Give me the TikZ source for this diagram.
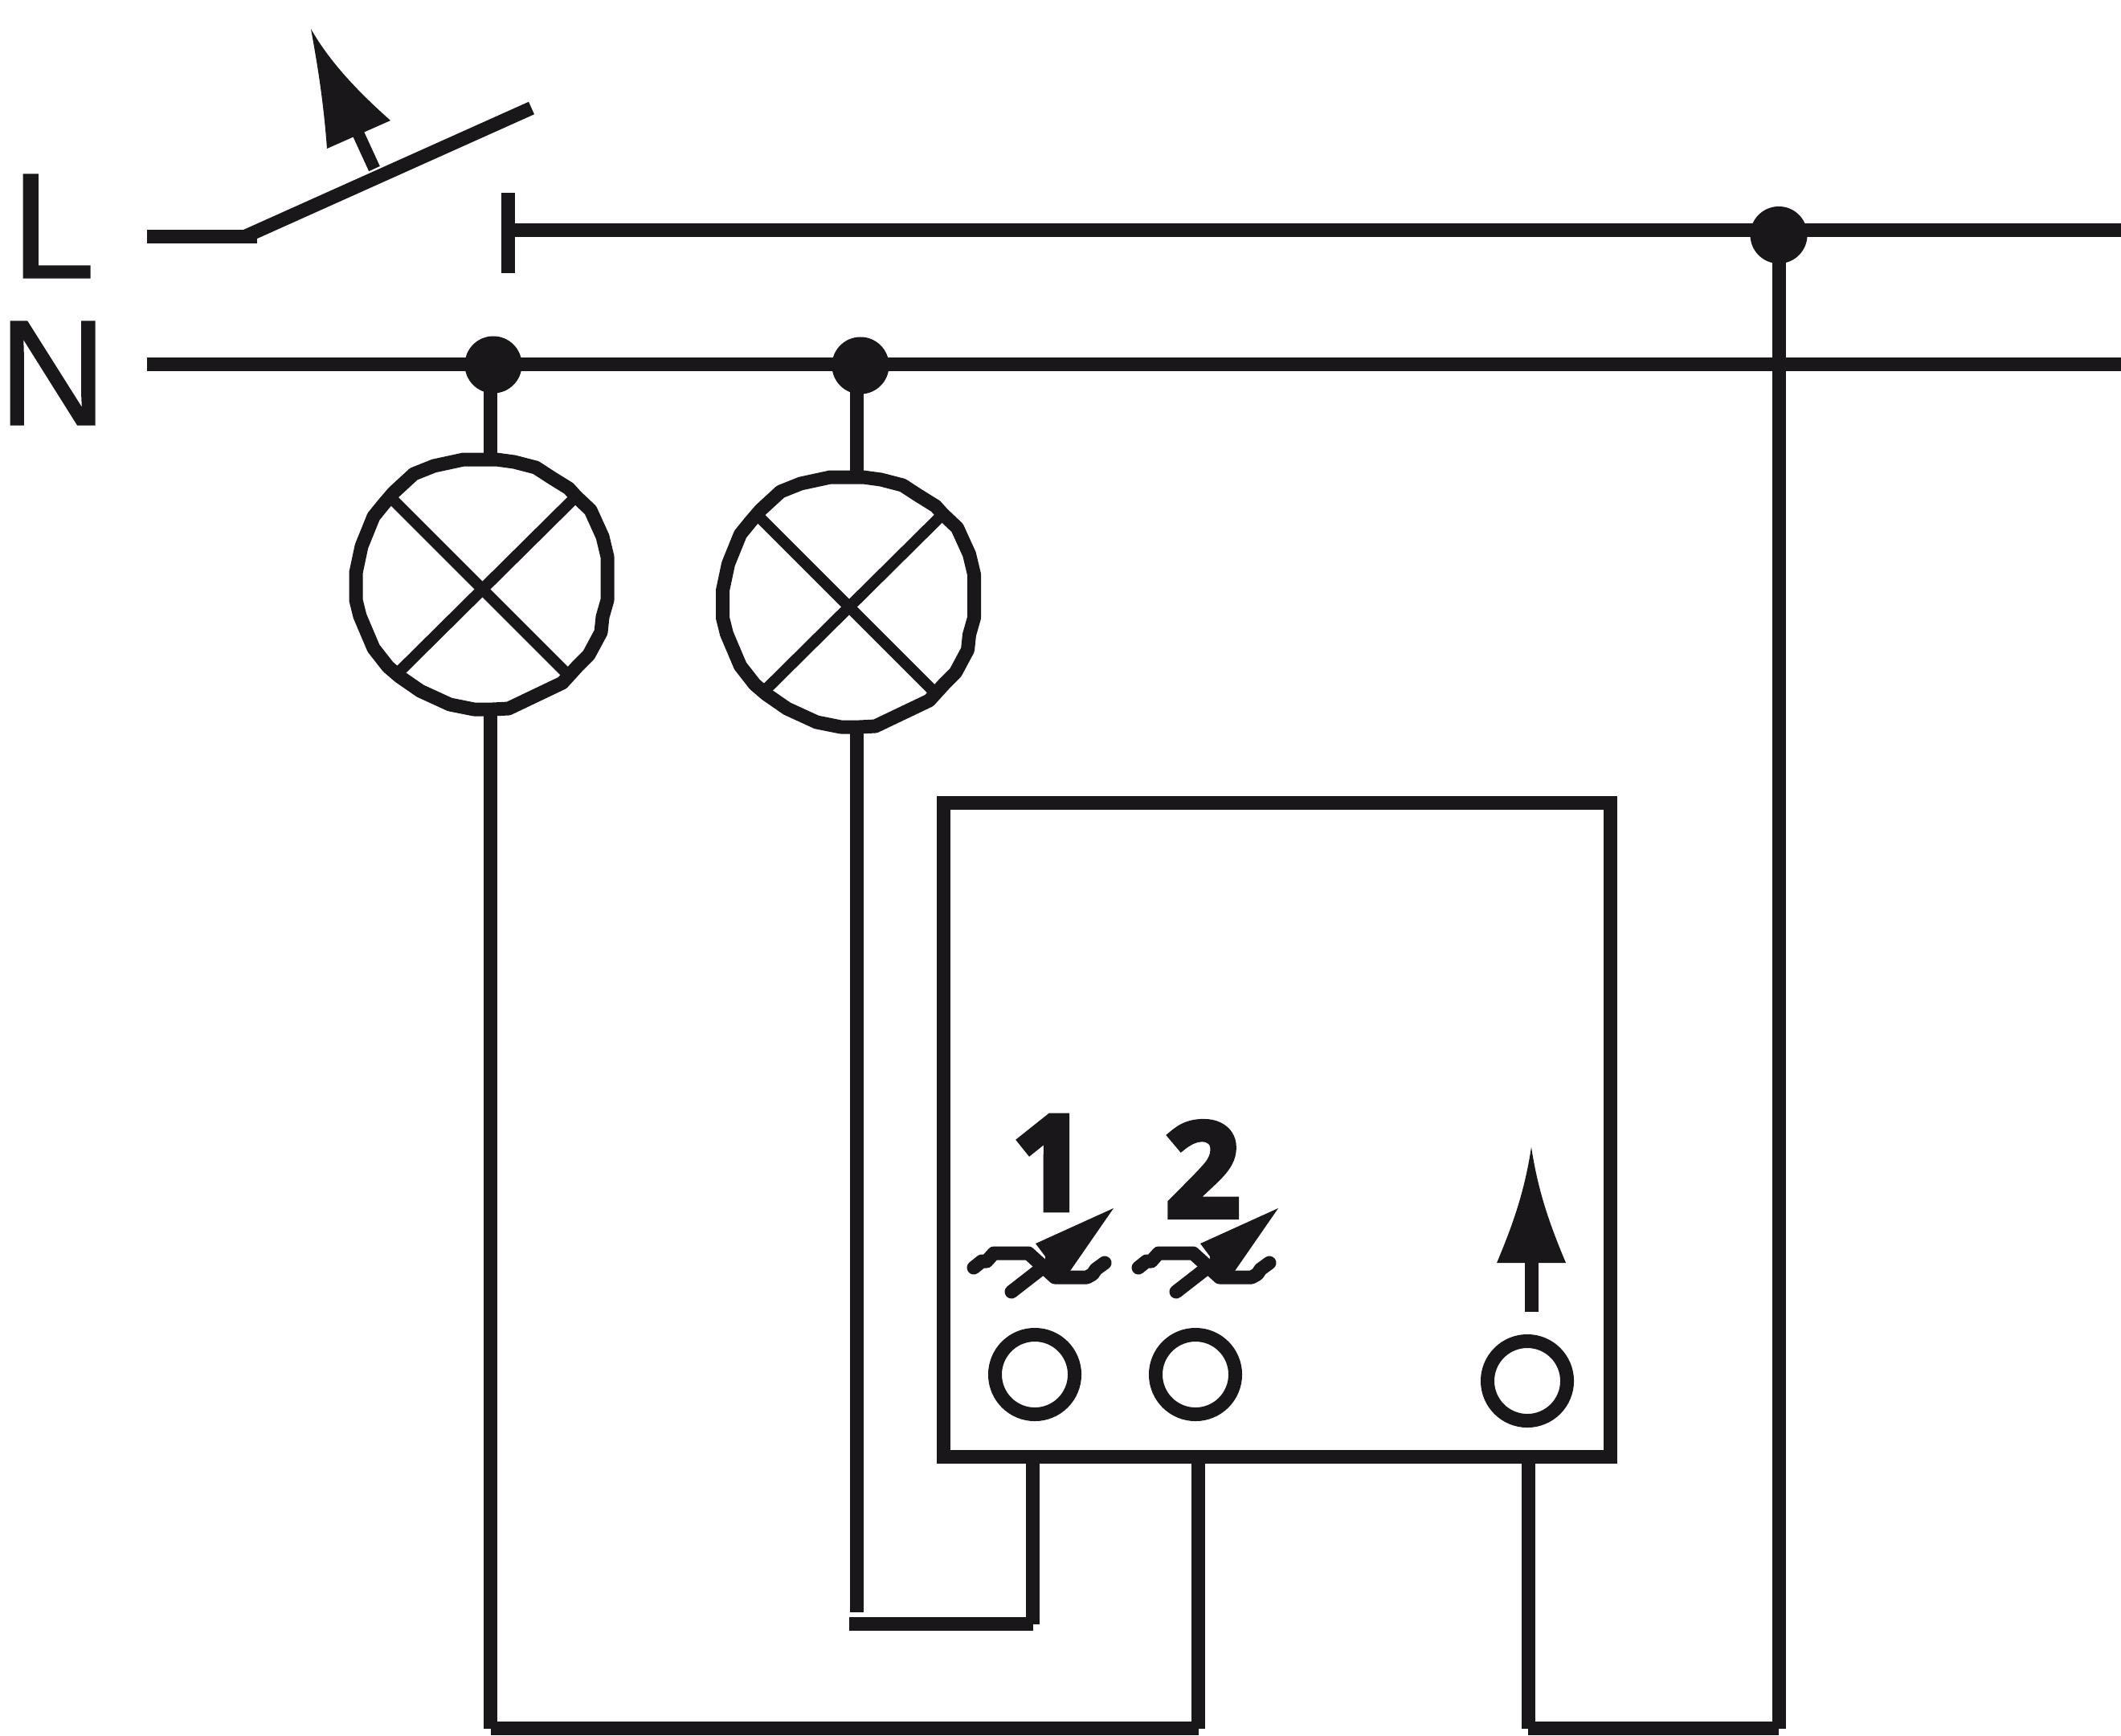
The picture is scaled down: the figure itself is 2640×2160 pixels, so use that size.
\documentclass[tikz,border=0pt]{standalone}
\usepackage{fontspec}
\setmainfont{Liberation Sans}
\newfontfamily\labelfont{Liberation Sans}[FakeBold=1]
\newfontfamily\heavyfont{Open Sans Bold}[FakeBold=5]
\definecolor{mblack}{rgb}{0.102, 0.09, 0.106}
\tikzset{wire/.style = {mblack, line width = 1.7mm}}
\tikzset{circ/.style = {fill = mblack, circle, inner sep = 0, outer sep = 0, minimum size = 7.1mm}}
\tikzset{lamp/.style = {circle, inner sep = 0, outer sep = 0, minimum size = 31.1mm}}
\tikzset{lampring/.style = {mblack, line width = 1.7mm, line join = round}}
\tikzset{term/.style = {draw = mblack, circle, line width = 1.7mm, inner sep = 0, outer sep = 0, minimum size = 9.9mm}}
\tikzset{crossline/.style = {mblack, line width = 1.4mm}}
\tikzset{symb/.style = {mblack, line width = 1.7mm, line cap = round, line join = round}}
\tikzset{mainlabel/.style = {mblack, inner sep = 0, outer sep = 0, font = \labelfont\fontsize{53}{60}\selectfont}}
\tikzset{numlabel/.style = {mblack, inner sep = 0, outer sep = 0, font = \heavyfont\fontsize{46}{50}\selectfont}}

\begin{document}
\begin{tikzpicture}[x = 0.01cm, y = -0.01cm]
    \useasboundingbox (0, 0) rectangle (2640, 2160);

    \node [mainlabel] (labl) at (66, 281.5) {L};
    \node [mainlabel] (labn) at (65.5, 464.5) {N};

    \coordinate (swa) at (183, 294);
    \coordinate (swb) at (320, 294);
    \coordinate (swc) at (306, 294);
    \coordinate (swd) at (661.5, 134.5);
    \coordinate (pusha) at (466, 210);
    \coordinate (pushb) at (443, 160);
    \draw [wire] (swa) -- (swb);
    \draw [wire] (swc) -- (swd);
    \draw [wire, line width = 1.5mm] (pusha) -- (pushb);
    \fill [mblack] (387, 36) .. controls (396, 85) and (403, 130) .. (407, 185)
        -- (486, 150) .. controls (450, 118) and (412, 80) .. cycle;

    \coordinate (stuba) at (632, 240);
    \coordinate (stubb) at (632, 340);
    \coordinate (lstart) at (632, 286.5);
    \coordinate (lend) at (2640, 286.5);
    \coordinate (nstart) at (183, 453.5);
    \coordinate (nend) at (2640, 453.5);
    \draw [wire] (stuba) -- (stubb);

    \node [circ] (dotl) at (2214, 292.5) {};
    \node [circ] (dotna) at (614, 454) {};
    \node [circ] (dotnb) at (1071, 455) {};

    \draw [wire] (lstart) -- (lstart -| dotl.center);
    \draw [wire] (lstart -| dotl.center) -- (lend);
    \draw [wire] (nstart) -- (nend);

    \foreach \name/\cx/\cy in {lampa/600/728, lampb/1056.5/750} {
      \node [lamp] (\name) at (\cx, \cy) {};
      \begin{scope}[shift = {(\cx, \cy)}]
        \draw [lampring] (-23, -156) -- (18, -156) -- (40, -153) -- (67, -146) -- (87, -133)
          -- (108, -120) -- (117, -110) -- (135, -93) -- (150, -60) -- (156, -35) -- (156, 19)
          -- (150, 40) -- (148, 59) -- (133, 87) -- (120, 100) -- (100, 122) -- (33, 154)
          -- (13, 155) -- (-10, 155) -- (-40, 149) -- (-77, 132) -- (-103, 114) -- (-117, 102)
          -- (-135, 79) -- (-152, 39) -- (-157, 19) -- (-157, -15) -- (-150, -48) -- (-135, -85)
          -- (-122, -101) -- (-110, -115) -- (-85, -138) -- (-60, -148) -- cycle;
        \draw [crossline] (-110, -105) -- (105, 110);
        \draw [crossline] (112, -105) -- (-105, 110);
      \end{scope}
    }

    \node [draw = mblack, line width = 1.7mm, inner sep = 0, outer sep = 0,
      minimum width = 82.9mm, minimum height = 81.4mm] (box) at (1589.5, 1406.5) {};

    \node [numlabel] (numa) at (1306.5, 1447.5) {1};
    \node [numlabel] (numb) at (1497, 1455.5) {2};

    \foreach \dx in {0, 205} {
      \begin{scope}[shift = {(\dx, 0)}]
        \fill [mblack] (1386, 1504) -- (1289, 1548) -- (1301, 1564) -- (1300, 1590) -- (1332, 1582) -- cycle;
        \draw [symb] (1212, 1578) -- (1222, 1570) -- (1228, 1570) -- (1237, 1560) -- (1280, 1560)
          -- (1313, 1590) -- (1353, 1590) -- (1360, 1586) -- (1364, 1580) -- (1375, 1572);
        \draw [symb] (1259, 1608) -- (1295, 1580);
      \end{scope}
    }

    \fill [mblack] (1906, 1428) .. controls (1898, 1480) and (1885, 1520) .. (1863, 1572)
        -- (1949, 1572) .. controls (1927, 1520) and (1914, 1480) .. cycle;
    \coordinate (upa) at (1906, 1570);
    \coordinate (upb) at (1906, 1633);
    \draw [wire] (upa) -- (upb);

    \node [term] (terma) at (1288, 1711) {};
    \node [term] (termb) at (1488, 1711) {};
    \node [term] (termc) at (1901, 1719) {};

    \coordinate (cnra) at (610.5, 2151.5);
    \coordinate (cnrb) at (1491.5, 2151.5);
    \coordinate (cnrc) at (1902, 2151.5);
    \coordinate (cnrd) at (2214, 2151.5);
    \coordinate (cnre) at (1057, 2021.5);
    \coordinate (cnrf) at (1285.5, 2021.5);
    \coordinate (endb) at (1066.5, 2007);

    \draw [wire] (dotna.center -| cnra) -- (cnra |- lampa.north);
    \draw [wire] (dotnb.center -| endb) -- (endb |- lampb.north);
    \draw [wire] (cnra |- lampa.south) -- (cnra);
    \draw [wire] (endb |- lampb.south) -- (endb);
    \draw [wire] (cnra) -- (cnrb);
    \draw [wire] (cnre) -- (cnrf);
    \draw [wire] (cnrf |- box.south) -- (cnrf);
    \draw [wire] (cnrb |- box.south) -- (cnrb);
    \draw [wire] (cnrc |- box.south) -- (cnrc);
    \draw [wire] (cnrc) -- (cnrd);
    \draw [wire] (dotl.center) -- (cnrd);
  \end{tikzpicture}
\end{document}
